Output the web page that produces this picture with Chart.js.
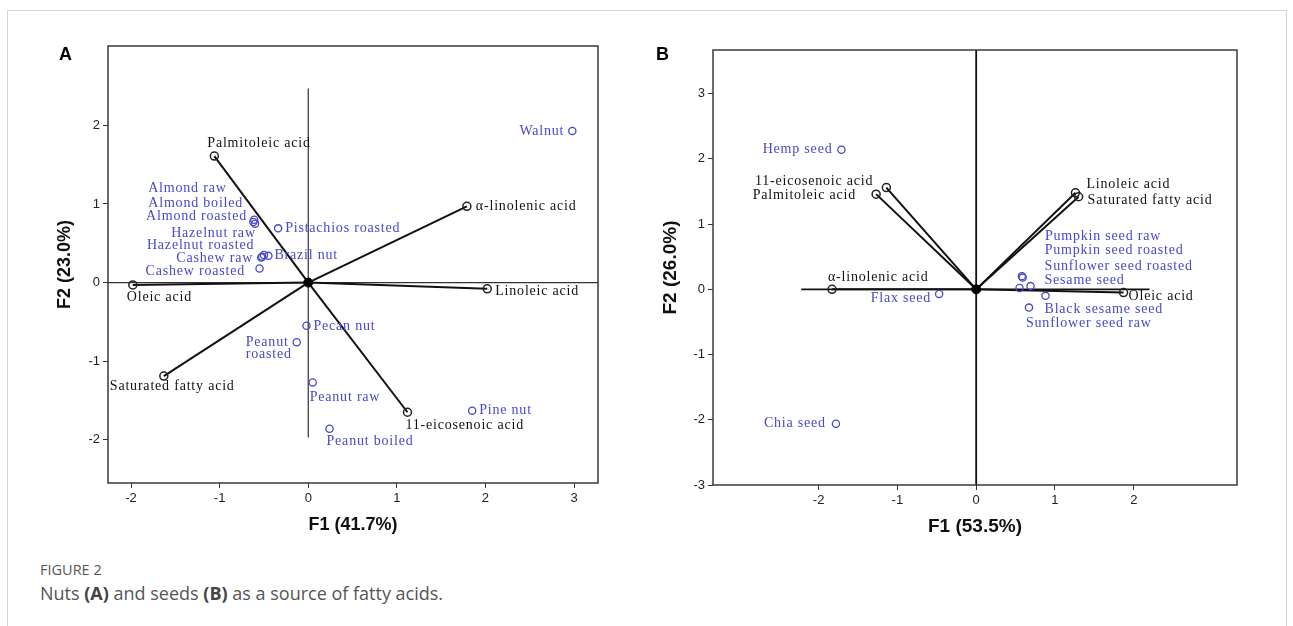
<!DOCTYPE html>
<html><head><meta charset="utf-8">
<script src="https://cdn.jsdelivr.net/npm/chart.js@4.4.0/dist/chart.umd.min.js"></script>
<style>
html,body{margin:0;padding:0;background:#fff;width:1293px;height:626px;overflow:hidden;position:relative;}
#frame{position:absolute;left:7px;top:10px;width:1278px;height:700px;border:1px solid #d4d4d4;}
#cA{position:absolute;left:0;top:0;}
#cB{position:absolute;left:640px;top:0;}
.letter{position:absolute;font:bold 18px "Liberation Sans",Arial,sans-serif;color:#000;}
#capTitle{position:absolute;left:40px;top:560px;font:14.5px "Open Sans",sans-serif;color:#555;}
#capText{position:absolute;left:40px;top:581px;font:18px "Open Sans",sans-serif;color:#555;}
#capText b{font-weight:700;color:#444;}
</style></head>
<body>
<div id="frame"></div>
<canvas id="cA" width="640" height="560"></canvas>
<canvas id="cB" width="653" height="560"></canvas>
<div class="letter" style="left:59px;top:44px;">A</div>
<div class="letter" style="left:656px;top:44px;">B</div>
<div id="capTitle">FIGURE 2</div>
<div id="capText">Nuts <b>(A)</b> and seeds <b>(B)</b> as a source of fatty acids.</div>
<script>
// ---------- Panel A: nuts ----------
const nutNames = ['Walnut','Pistachios roasted','Almond raw','Almond boiled','Almond roasted','Hazelnut raw','Hazelnut roasted','Cashew raw','Cashew roasted','Brazil nut','Pecan nut','Peanut\nroasted','Peanut raw','Peanut boiled','Pine nut'];
const nutF1 = [2.98,-0.34,-0.61,-0.62,-0.60,-0.52,-0.50,-0.53,-0.55,-0.45,-0.02,-0.13,0.05,0.24,1.85];
const nutF2 = [1.93,0.69,0.80,0.77,0.75,0.33,0.35,0.32,0.18,0.34,-0.55,-0.76,-1.27,-1.86,-1.63];
const nutAcidNames = ['Palmitoleic acid','Oleic acid','Saturated fatty acid','11-eicosenoic acid','Linoleic acid','α-linolenic acid'];
const nutAcidF1 = [-1.06,-1.98,-1.63,1.12,2.02,1.79];
const nutAcidF2 = [1.61,-0.03,-1.19,-1.65,-0.08,0.97];
const nutTicksX = [-2,-1,0,1,2,3];
const nutTicksY = [-2,-1,0,1,2];
const nutRangeX = [-2.26,3.27];
const nutRangeY = [-2.55,3.01];
const nutVertLine = [2.47,-1.97];   // F2 extent of the F1=0 line
const nutHorzLine = [-2.26,3.27];   // F1 extent of the F2=0 line

// ---------- Panel B: seeds ----------
const seedNames = ['Hemp seed','Flax seed','Chia seed','Pumpkin seed raw','Pumpkin seed roasted','Sunflower seed roasted','Sesame seed','Black sesame seed','Sunflower seed raw'];
const seedF1 = [-1.71,-0.47,-1.78,0.58,0.59,0.69,0.55,0.88,0.67];
const seedF2 = [2.14,-0.07,-2.06,0.20,0.18,0.05,0.02,-0.10,-0.28];
const seedAcidNames = ['11-eicosenoic acid','Palmitoleic acid','α-linolenic acid','Linoleic acid','Saturated fatty acid','Oleic acid'];
const seedAcidF1 = [-1.14,-1.27,-1.83,1.26,1.30,1.87];
const seedAcidF2 = [1.56,1.46,0.00,1.48,1.42,-0.05];
const seedTicksX = [-2,-1,0,1,2];
const seedTicksY = [-3,-2,-1,0,1,2,3];
const seedRangeX = [-3.34,3.31];
const seedRangeY = [-3,3.67];
const seedVertLine = [3.67,-3];
const seedHorzLine = [-2.22,2.2];

// ---------- label placement (pixel offsets from each marker) ----------
const nutLabelPlace = [[-8,0,'right'],[7,0,'left'],[-106,-31,'left'],[-105,-19,'left'],[-109,-7,'left'],[-91,-23,'left'],[-117,-10,'left'],[-85,1,'left'],[-114,3,'left'],[6,-1,'left'],[7,1,'left'],[-51,0,'left'],[-3,15,'left'],[-3,13,'left'],[7,0,'left']];
const nutAcidLabelPlace = [[-7,-13,'left'],[-6,12,'left'],[-54,10,'left'],[-2,13,'left'],[8,2,'left'],[9,0,'left']];
const seedLabelPlace = [[-9,0,'right'],[-8,4,'right'],[-10,0,'right'],[23,-40,'left'],[22,-27,'left'],[14,-20,'left'],[25,-8,'left'],[-1,13,'left'],[-3,16,'left']];
const seedAcidLabelPlace = [[-13,-6,'right'],[-20,1,'right'],[-4,-12,'left'],[11,-8,'left'],[9,4,'left'],[5,4,'left']];

const BLUE = '#4747cf';
const INK = '#111';

const labelPlugin = {
  id: 'pointLabels',
  afterDatasetsDraw(chart) {
    const ctx = chart.ctx;
    chart.data.datasets.forEach((ds, di) => {
      if (!ds.pointLabels) return;
      const meta = chart.getDatasetMeta(di);
      ctx.save();
      ctx.font = '14px "Liberation Serif", "Times New Roman", serif';
      try { ctx.letterSpacing = '0.8px'; } catch (e) {}
      ctx.fillStyle = ds.labelColor;
      ctx.textBaseline = 'middle';
      ds.pointLabels.forEach((txt, i) => {
        const el = meta.data[i];
        const p = ds.labelPlace[i];
        ctx.textAlign = p[2];
        txt.split('\n').forEach((line, li) => ctx.fillText(line, el.x + p[0], el.y + p[1] + li * 12));
      });
      ctx.restore();
    });
  }
};
const framePlugin = {
  id: 'frameBox',
  afterDraw(chart) {
    const {left, top, right, bottom} = chart.chartArea;
    const ctx = chart.ctx;
    ctx.save();
    ctx.strokeStyle = '#3a3a3a';
    ctx.lineWidth = 1.5;
    ctx.strokeRect(left, top, right - left, bottom - top);
    ctx.restore();
  }
};

function pts(xs, ys) { return xs.map((x, i) => ({x, y: ys[i]})); }

function buildDatasets(names, f1, f2, place, acidNames, af1, af2, acidPlace, vLine, hLine, refStyle) {
  const ds = [];
  ds.push({data: pts(f1, f2), pointRadius: 3.6, pointBorderWidth: 1.3, pointBorderColor: BLUE, pointBackgroundColor: 'rgba(255,255,255,0)', showLine: false,
           pointLabels: names, labelPlace: place, labelColor: BLUE, order: 1});
  ds.push({data: pts(af1, af2), pointRadius: 4, pointBorderWidth: 1.5, pointBorderColor: '#222', pointBackgroundColor: 'rgba(255,255,255,0)', showLine: false,
           pointLabels: acidNames, labelPlace: acidPlace, labelColor: INK, order: 2});
  ds.push({data: [{x: 0, y: 0}], pointRadius: 4.5, pointBackgroundColor: '#000', pointBorderColor: '#000', showLine: false, order: 3});
  af1.forEach((x, i) => {
    ds.push({data: [{x: 0, y: 0}, {x, y: af2[i]}], showLine: true, borderColor: '#111', borderWidth: 2, pointRadius: 0, order: 4});
  });
  ds.push({data: [{x: 0, y: vLine[0]}, {x: 0, y: vLine[1]}], showLine: true, borderColor: refStyle[0], borderWidth: refStyle[1], pointRadius: 0, order: 5});
  ds.push({data: [{x: hLine[0], y: 0}, {x: hLine[1], y: 0}], showLine: true, borderColor: refStyle[0], borderWidth: refStyle[1], pointRadius: 0, order: 5});
  return ds;
}

function axis(range, ticks, title, fixed, isX, titleSize) {
  return {
    type: 'linear', min: range[0], max: range[1],
    afterFit: s => { if (isX) s.height = fixed; else s.width = fixed; },
    afterBuildTicks: s => { s.ticks = ticks.map(v => ({value: v})); },
    ticks: {font: {family: '"Liberation Sans", Arial, sans-serif', size: 13}, color: '#222', padding: 3, maxRotation: 0, autoSkip: false,
            callback: v => String(v)},
    grid: {drawOnChartArea: false, drawTicks: true, tickLength: 5, color: '#333', lineWidth: 1},
    border: {display: false},
    title: {display: true, text: title, color: '#111', font: {family: '"Liberation Sans", Arial, sans-serif', size: titleSize, weight: 'bold'},
            padding: isX ? {top: 0, bottom: 2} : {top: 6, bottom: 0}}
  };
}

function makeChart(id, datasets, xr, yr, xt, yt, xTitle, yTitle, pad, titleSize) {
  new Chart(document.getElementById(id), {
    type: 'scatter',
    data: {datasets},
    options: {
      responsive: false, animation: false, devicePixelRatio: 1,
      layout: {padding: pad},
      plugins: {legend: {display: false}, tooltip: {enabled: false}},
      scales: {x: axis(xr, xt, xTitle, 55, true, titleSize), y: axis(yr, yt, yTitle, 60, false, titleSize)}
    },
    plugins: [labelPlugin, framePlugin]
  });
}

makeChart('cA',
  buildDatasets(nutNames, nutF1, nutF2, nutLabelPlace, nutAcidNames, nutAcidF1, nutAcidF2, nutAcidLabelPlace, nutVertLine, nutHorzLine, ['#333', 1.2]),
  nutRangeX, nutRangeY, nutTicksX, nutTicksY, 'F1 (41.7%)', 'F2 (23.0%)',
  {left: 48, top: 46, right: 42, bottom: 22}, 18);

makeChart('cB',
  buildDatasets(seedNames, seedF1, seedF2, seedLabelPlace, seedAcidNames, seedAcidF1, seedAcidF2, seedAcidLabelPlace, seedVertLine, seedHorzLine, ['#111', 1.8]),
  seedRangeX, seedRangeY, seedTicksX, seedTicksY, 'F1 (53.5%)', 'F2 (26.0%)',
  {left: 13, top: 50, right: 56, bottom: 20}, 19);
</script>
</body></html>
